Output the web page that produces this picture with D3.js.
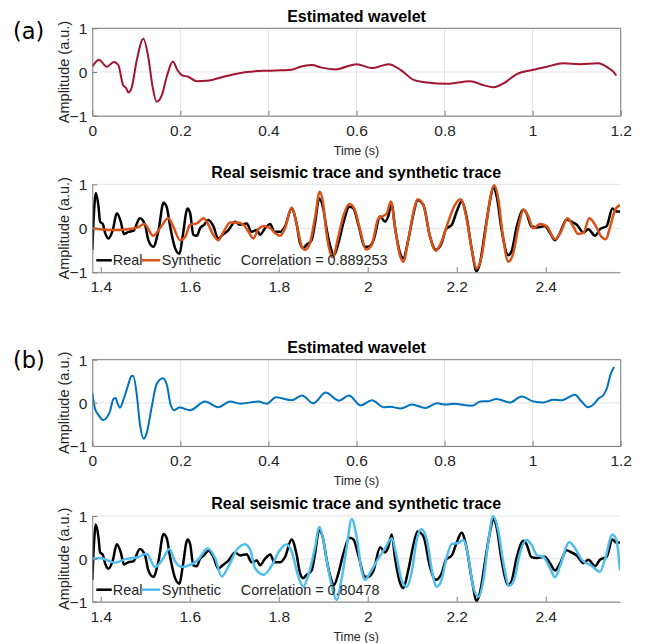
<!DOCTYPE html>
<html>
<head>
<meta charset="utf-8">
<script src="https://cdn.jsdelivr.net/npm/d3@7"></script>
<style>
  html, body { margin: 0; padding: 0; background: #fff; }
  svg { display: block; font-family: "Liberation Sans", Arial, sans-serif; }
</style>
</head>
<body>
<svg id="chart" width="647" height="643"></svg>
<script>
// ---------------- DATA ----------------
const waveletTicks = [0, 0.2, 0.4, 0.6, 0.8, 1, 1.2];
const traceTicks = [1.4, 1.6, 1.8, 2, 2.2, 2.4];
const ampTicks = [-1, 0, 1];
const waveletDomain = [0, 1.2];
const traceDomain = [1.381, 2.567];

const panelLabels = ["(a)", "(b)"];
const waveletTitle = "Estimated wavelet";
const traceTitle = "Real seismic trace and synthetic trace";
const xLabel = "Time (s)";
const yLabel = "Amplitude (a.u.)";
const legendNames = ["Real", "Synthetic"];
const correlations = ["0.889253", "0.80478"];

// (a) estimated wavelet
const waveletTimeA = [0, 0.015, 0.033, 0.049, 0.059, 0.070, 0.077, 0.082, 0.089, 0.101, 0.116, 0.127, 0.137, 0.146, 0.158, 0.169, 0.183, 0.193, 0.203, 0.218, 0.237, 0.26, 0.305, 0.35, 0.396, 0.427, 0.453, 0.472, 0.498, 0.521, 0.552, 0.6, 0.635, 0.673, 0.70, 0.73, 0.76, 0.805, 0.858, 0.888, 0.911, 0.934, 0.964, 1.001, 1.032, 1.069, 1.107, 1.149, 1.171, 1.183, 1.19];
const waveletAmpA  = [0.12, 0.28, 0.12, 0.23, 0.16, -0.30, -0.37, -0.47, -0.37, 0.27, 0.76, 0.35, -0.34, -0.68, -0.53, -0.11, 0.24, 0.05, -0.07, -0.11, -0.21, -0.20, -0.09, 0.0, 0.03, 0.04, 0.05, 0.12, 0.16, 0.10, 0.06, 0.18, 0.09, 0.18, 0.05, -0.18, -0.24, -0.27, -0.21, -0.30, -0.35, -0.26, -0.05, 0.05, 0.12, 0.20, 0.18, 0.20, 0.10, 0.01, -0.08];

// (b) estimated wavelet
const waveletTimeB = [0, 0.006, 0.014, 0.025, 0.033, 0.040, 0.048, 0.053, 0.057, 0.063, 0.070, 0.077, 0.082, 0.089, 0.093, 0.101, 0.108, 0.117, 0.123, 0.135, 0.146, 0.160, 0.169, 0.178, 0.186, 0.198, 0.222, 0.256, 0.286, 0.313, 0.336, 0.377, 0.396, 0.417, 0.453, 0.476, 0.502, 0.530, 0.56, 0.583, 0.609, 0.635, 0.662, 0.677, 0.70, 0.726, 0.756, 0.783, 0.802, 0.82, 0.862, 0.881, 0.90, 0.918, 0.949, 0.975, 1.002, 1.024, 1.047, 1.066, 1.096, 1.111, 1.126, 1.137, 1.151, 1.16, 1.169, 1.177, 1.185];
const waveletAmpB  = [0.23, -0.13, -0.28, -0.40, -0.34, -0.20, 0.09, 0.11, 0.0, -0.11, 0.05, 0.27, 0.43, 0.62, 0.62, 0.19, -0.48, -0.83, -0.72, -0.09, 0.43, 0.57, 0.43, -0.05, -0.17, -0.11, -0.17, 0.03, -0.10, 0.03, -0.02, 0.03, -0.02, 0.13, 0.06, 0.17, -0.01, 0.24, 0.05, 0.17, -0.06, 0.06, -0.10, -0.09, -0.13, -0.04, -0.12, -0.01, -0.04, -0.02, -0.07, 0.03, 0.04, 0.09, 0.01, 0.15, 0.03, 0.01, 0.07, 0.06, 0.19, 0.03, -0.10, -0.05, 0.11, 0.17, 0.35, 0.66, 0.83];

// Real seismic trace (same in both panels)
const traceTimeReal = [1.381, 1.3835, 1.389, 1.395, 1.3985, 1.4045, 1.41, 1.417, 1.427, 1.436, 1.445, 1.452, 1.462, 1.473, 1.488, 1.4996, 1.507, 1.518, 1.53, 1.541, 1.548, 1.556, 1.567, 1.577, 1.584, 1.595, 1.601, 1.608, 1.616, 1.623, 1.632, 1.642, 1.653, 1.664, 1.674, 1.687, 1.702, 1.713, 1.728, 1.739, 1.751, 1.758, 1.769, 1.781, 1.79, 1.803, 1.814, 1.829, 1.84, 1.848, 1.855, 1.862, 1.874, 1.882, 1.891, 1.90, 1.908, 1.917, 1.924, 1.934, 1.945, 1.959, 1.968, 1.979, 1.994, 2.001, 2.013, 2.028, 2.039, 2.046, 2.054, 2.061, 2.073, 2.08, 2.091, 2.103, 2.112, 2.125, 2.14, 2.153, 2.166, 2.176, 2.189, 2.2, 2.211, 2.222, 2.234, 2.245, 2.252, 2.264, 2.275, 2.282, 2.29, 2.301, 2.316, 2.323, 2.335, 2.35, 2.357, 2.368, 2.38, 2.398, 2.41, 2.421, 2.432, 2.447, 2.458, 2.47, 2.485, 2.496, 2.511, 2.522, 2.537, 2.55, 2.559, 2.567];
const traceAmpReal  = [-0.49, 0.11, 0.80, 0.49, 0.15, 0.10, -0.11, -0.23, -0.04, 0.34, 0.15, -0.13, -0.08, -0.06, 0.23, 0.08, -0.27, -0.42, -0.04, 0.58, 0.49, 0.04, -0.45, -0.58, -0.19, 0.45, 0.34, -0.15, -0.17, 0.0, 0.08, 0.19, 0.05, -0.23, -0.15, -0.04, 0.15, 0.08, 0.11, -0.08, -0.04, -0.15, 0.0, 0.10, -0.08, -0.08, 0.04, 0.45, 0.11, -0.34, -0.45, -0.38, -0.27, 0.15, 0.68, 0.45, -0.04, -0.45, -0.61, -0.34, 0.11, 0.49, 0.45, 0.08, -0.42, -0.42, -0.27, 0.27, 0.15, 0.27, 0.57, 0.04, -0.57, -0.68, -0.27, 0.34, 0.64, 0.53, -0.19, -0.49, -0.34, -0.02, 0.08, 0.38, 0.61, 0.27, -0.49, -0.98, -0.80, -0.04, 0.64, 0.93, 0.72, -0.04, -0.61, -0.53, 0.04, 0.42, 0.34, 0.04, 0.02, 0.05, -0.11, -0.27, -0.11, 0.20, 0.15, 0.08, -0.10, -0.02, -0.17, -0.02, 0.05, 0.45, 0.38, 0.38];

// (a) synthetic trace
const traceTimeSynA = [1.381, 1.423, 1.46, 1.483, 1.498, 1.518, 1.533, 1.552, 1.563, 1.578, 1.59, 1.601, 1.616, 1.631, 1.642, 1.653, 1.664, 1.676, 1.691, 1.706, 1.721, 1.732, 1.743, 1.754, 1.766, 1.781, 1.792, 1.803, 1.814, 1.829, 1.84, 1.852, 1.859, 1.87, 1.882, 1.892, 1.90, 1.906, 1.913, 1.921, 1.934, 1.945, 1.959, 1.971, 1.983, 1.996, 2.009, 2.024, 2.035, 2.043, 2.052, 2.061, 2.073, 2.08, 2.091, 2.103, 2.112, 2.125, 2.14, 2.153, 2.166, 2.181, 2.196, 2.209, 2.222, 2.234, 2.245, 2.256, 2.267, 2.276, 2.284, 2.294, 2.303, 2.316, 2.327, 2.339, 2.35, 2.361, 2.372, 2.387, 2.402, 2.421, 2.436, 2.449, 2.462, 2.473, 2.485, 2.498, 2.511, 2.526, 2.535, 2.545, 2.556, 2.567];
const traceAmpSynA  = [0.0, -0.04, -0.02, 0.02, 0.10, -0.17, 0.0, 0.23, 0.04, -0.27, -0.19, 0.08, 0.11, 0.23, 0.08, -0.15, -0.27, -0.08, 0.13, 0.13, 0.08, -0.08, -0.23, -0.02, 0.05, 0.0, -0.11, -0.17, 0.0, 0.47, 0.11, -0.42, -0.49, -0.34, 0.27, 0.83, 0.55, 0.0, -0.45, -0.66, -0.19, 0.27, 0.55, 0.42, -0.04, -0.48, -0.38, 0.23, 0.28, 0.34, 0.61, 0.04, -0.64, -0.76, -0.27, 0.38, 0.66, 0.53, -0.19, -0.51, -0.30, 0.15, 0.53, 0.66, 0.23, -0.49, -0.91, -0.64, 0.11, 0.72, 0.98, 0.64, -0.11, -0.76, -0.57, 0.04, 0.42, 0.27, 0.0, 0.10, 0.05, -0.25, -0.04, 0.23, 0.04, -0.13, -0.10, 0.23, 0.08, -0.20, -0.25, 0.04, 0.42, 0.53];

// (b) synthetic trace
const traceTimeSynB = [1.381, 1.398, 1.432, 1.458, 1.481, 1.503, 1.522, 1.541, 1.554, 1.567, 1.582, 1.601, 1.619, 1.64, 1.657, 1.672, 1.687, 1.706, 1.724, 1.736, 1.747, 1.766, 1.783, 1.803, 1.818, 1.829, 1.844, 1.855, 1.867, 1.882, 1.891, 1.90, 1.908, 1.919, 1.930, 1.941, 1.953, 1.964, 1.975, 1.986, 1.994, 2.005, 2.02, 2.039, 2.054, 2.065, 2.076, 2.088, 2.099, 2.11, 2.121, 2.133, 2.144, 2.155, 2.166, 2.177, 2.189, 2.204, 2.215, 2.226, 2.237, 2.249, 2.26, 2.271, 2.282, 2.293, 2.305, 2.318, 2.329, 2.342, 2.357, 2.368, 2.38, 2.395, 2.41, 2.421, 2.432, 2.453, 2.466, 2.481, 2.503, 2.522, 2.533, 2.55, 2.559, 2.567];
const traceAmpSynB  = [0.0, 0.02, -0.09, 0.0, 0.03, 0.12, -0.19, 0.02, 0.23, -0.06, -0.19, -0.14, -0.02, 0.25, 0.02, -0.41, -0.18, 0.21, 0.34, 0.21, -0.22, -0.37, -0.18, 0.21, 0.34, 0.17, -0.41, -0.65, -0.37, 0.29, 0.75, 0.45, -0.05, -0.62, -0.96, -0.49, 0.29, 0.93, 0.52, -0.26, -0.49, -0.33, -0.06, 0.25, 0.48, 0.05, -0.49, -0.65, -0.30, 0.44, 0.69, 0.44, -0.26, -0.65, -0.49, 0.02, 0.35, 0.37, 0.44, 0.05, -0.65, -0.88, -0.49, 0.40, 1.0, 0.68, -0.10, -0.63, -0.49, 0.13, 0.44, 0.33, 0.09, 0.04, -0.22, -0.43, -0.18, 0.39, 0.25, -0.02, -0.16, -0.30, -0.02, 0.56, 0.44, -0.27];

// ---------------- DRAWING ----------------
const svg = d3.select("#chart");
svg.append("rect").attr("width", 647).attr("height", 643).attr("fill", "#fff");

const TEXT = "#262626", AXIS = "#7f7f7f", GRID = "#e3e3e3";
const zip = (t, v) => t.map((d, i) => [d, v[i]]);

let clipId = 0;
function panel(opt) {
  const x = d3.scaleLinear().domain(opt.domain).range([opt.left, opt.right]);
  const y = d3.scaleLinear().domain([-1, 1]).range([opt.bottom, opt.top]);
  const g = svg.append("g");

  // grid
  if (opt.xgrid) {
    g.selectAll(null).data(opt.xticks).enter().append("line")
      .attr("x1", d => x(d)).attr("x2", d => x(d))
      .attr("y1", opt.top).attr("y2", opt.bottom)
      .attr("stroke", GRID).attr("stroke-width", 1);
  }
  g.selectAll(null).data(ampTicks).enter().append("line")
    .attr("x1", opt.left).attr("x2", opt.right)
    .attr("y1", d => y(d)).attr("y2", d => y(d))
    .attr("stroke", GRID).attr("stroke-width", 1);

  // curves
  const id = "clip" + (clipId++);
  svg.append("clipPath").attr("id", id).append("rect")
    .attr("x", opt.left).attr("y", opt.top - 4)
    .attr("width", opt.right - opt.left).attr("height", opt.bottom - opt.top + 8);
  const line = d3.line().x(d => x(d[0])).y(d => y(d[1])).curve(d3.curveMonotoneX);
  const cg = g.append("g").attr("clip-path", `url(#${id})`);
  opt.series.forEach(s => {
    cg.append("path").attr("d", line(zip(s.t, s.v)))
      .attr("fill", "none").attr("stroke", s.color)
      .attr("stroke-width", s.width).attr("stroke-linejoin", "round");
  });

  // axes
  const xAxis = d3.axisBottom(x).tickValues(opt.xticks).tickSizeInner(-5).tickSizeOuter(0)
    .tickFormat(d3.format("~g"));
  const ax = g.append("g").attr("transform", `translate(0,${opt.bottom})`).call(xAxis);
  ax.select(".domain").attr("stroke", AXIS);
  ax.selectAll(".tick line").attr("stroke", AXIS);
  ax.selectAll(".tick text").attr("fill", TEXT).attr("font-size", 15.5)
    .attr("font-family", "Liberation Sans, Arial, sans-serif").attr("y", 9).attr("dy", "0.71em");

  const yAxis = d3.axisLeft(y).tickValues(ampTicks).tickSizeInner(-5).tickSizeOuter(0)
    .tickFormat(d3.format("~g"));
  const ay = g.append("g").attr("transform", `translate(${opt.left},0)`).call(yAxis);
  ay.select(".domain").attr("stroke", AXIS);
  ay.selectAll(".tick line").attr("stroke", AXIS);
  ay.selectAll(".tick text").attr("fill", TEXT).attr("font-size", 15.5)
    .attr("font-family", "Liberation Sans, Arial, sans-serif").attr("x", -5).attr("dy", "0.35em");

  if (opt.box) {
    g.append("line").attr("x1", opt.left).attr("x2", opt.right)
      .attr("y1", opt.top).attr("y2", opt.top).attr("stroke", AXIS);
    g.append("line").attr("x1", opt.right).attr("x2", opt.right)
      .attr("y1", opt.top).attr("y2", opt.bottom).attr("stroke", AXIS);
  }

  // title
  g.append("text").attr("x", (opt.left + opt.right) / 2).attr("y", opt.titleY)
    .attr("text-anchor", "middle").attr("font-weight", "bold").attr("font-size", 16)
    .attr("fill", "#000").text(opt.title);

  // y label
  g.append("text")
    .attr("transform", `translate(${opt.left - 23},${(opt.top + opt.bottom) / 2}) rotate(-90)`)
    .attr("text-anchor", "middle").attr("font-size", 14.5).attr("fill", TEXT).text(yLabel);

  // x label
  if (opt.xlabel) {
    g.append("text").attr("x", (opt.left + opt.right) / 2).attr("y", opt.bottom + 39)
      .attr("text-anchor", "middle").attr("font-size", 12.5).attr("fill", TEXT).text(xLabel);
  }

  // legend
  if (opt.legend) {
    const ly = opt.bottom - 12;
    const lg = g.append("g").attr("font-size", 14.4).attr("fill", TEXT);
    lg.append("line").attr("x1", opt.left + 4).attr("x2", opt.left + 19.5)
      .attr("y1", ly).attr("y2", ly).attr("stroke", opt.series[0].color).attr("stroke-width", 2.5);
    lg.append("text").attr("x", opt.left + 20.5).attr("y", ly + 5).text(legendNames[0]);
    lg.append("line").attr("x1", opt.left + 49.5).attr("x2", opt.left + 68)
      .attr("y1", ly).attr("y2", ly).attr("stroke", opt.series[1].color).attr("stroke-width", 2.5);
    lg.append("text").attr("x", opt.left + 69.5).attr("y", ly + 5).text(legendNames[1]);
    lg.append("text").attr("x", opt.left + 148.5).attr("y", ly + 5).text("Correlation = " + opt.corr);
  }
}

panel({ left: 92.3, right: 620.7, top: 28.3, bottom: 115.7, domain: waveletDomain, xticks: waveletTicks,
  xgrid: true, box: true, title: waveletTitle, titleY: 21.5, xlabel: true,
  series: [{ t: waveletTimeA, v: waveletAmpA, color: "#A2142F", width: 2 }] });

panel({ left: 92.3, right: 620, top: 184.3, bottom: 272.3, domain: traceDomain, xticks: traceTicks,
  xgrid: false, box: false, title: traceTitle, titleY: 177.7, xlabel: false, legend: true, corr: correlations[0],
  series: [{ t: traceTimeReal, v: traceAmpReal, color: "#000000", width: 2.5 },
           { t: traceTimeSynA, v: traceAmpSynA, color: "#D95319", width: 2.5 }] });

panel({ left: 92.3, right: 620.7, top: 359.7, bottom: 446, domain: waveletDomain, xticks: waveletTicks,
  xgrid: true, box: true, title: waveletTitle, titleY: 352.7, xlabel: true,
  series: [{ t: waveletTimeB, v: waveletAmpB, color: "#0072BD", width: 2 }] });

panel({ left: 92.3, right: 620, top: 516, bottom: 601.7, domain: traceDomain, xticks: traceTicks,
  xgrid: false, box: false, title: traceTitle, titleY: 509.3, xlabel: true, legend: true, corr: correlations[1],
  series: [{ t: traceTimeReal, v: traceAmpReal, color: "#000000", width: 2.5 },
           { t: traceTimeSynB, v: traceAmpSynB, color: "#4DBEEE", width: 2.5 }] });

// panel letters
svg.append("text").attr("x", 13).attr("y", 38.5).attr("font-family", "DejaVu Sans, sans-serif")
  .attr("font-size", 22.5).attr("fill", "#000").text(panelLabels[0]);
svg.append("text").attr("x", 13).attr("y", 367.5).attr("font-family", "DejaVu Sans, sans-serif")
  .attr("font-size", 22.5).attr("fill", "#000").text(panelLabels[1]);
</script>
</body>
</html>
